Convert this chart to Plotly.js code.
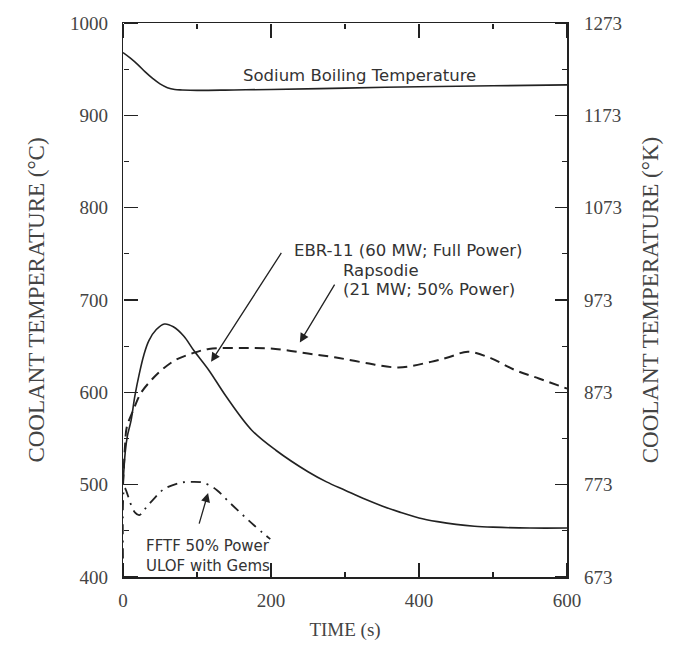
<!DOCTYPE html>
<html>
<head>
<meta charset="utf-8">
<script src="https://cdn.plot.ly/plotly-3.0.1.min.js"></script>
<style>html,body{margin:0;padding:0;background:#fff;}#chart{width:673px;height:655px;}</style>
</head>
<body>
<div id="chart"></div>
<script>
// Sodium boiling temperature (°C)
const sodiumTime = [0, 10, 20, 30, 40, 50, 60, 70, 80, 100, 150, 200, 300, 400, 500, 600];
const sodiumTemp = [968, 962, 955, 947, 940, 934, 930, 928, 927.5, 927, 927.5, 928, 929.5, 931, 932, 933];

// EBR-II (60 MW; Full Power)
const ebrTime = [0, 3, 6, 11, 16, 22, 28, 35, 45, 56, 68, 82, 96, 116, 139, 174, 207, 250, 275, 300, 325, 350, 375, 400, 425, 450, 475, 500, 550, 600];
const ebrTemp = [500, 535, 553, 570, 596, 620, 640, 656, 668, 674, 671, 661, 645, 624, 596, 559, 537, 514, 503, 494, 485, 477, 470, 464, 460, 457, 455, 454, 453, 453];

// Rapsodie (21 MW; 50% Power)
const rapTime = [0, 3, 5, 14, 24, 38, 52, 71, 93, 116, 160, 206, 250, 286, 327, 372, 416, 440, 466, 497, 530, 562, 600];
const rapTemp = [500, 545, 562, 581, 599, 613, 624, 635, 642, 647, 648, 647, 642, 638, 632, 627, 633, 638, 644, 637, 624, 615, 604];

// FFTF 50% Power ULOF with Gems
const fftfTime = [0, 2, 5, 10, 16, 22, 30, 42, 55, 77, 91, 109, 127, 141, 158, 177, 199];
const fftfTemp = [420, 497, 492, 480, 470, 467, 474, 485, 495, 502, 503, 502, 494, 483, 470, 456, 441];

// axis tick settings (Celsius left, Kelvin right, time bottom)
const yTickStartC = 400, yTickStepC = 100, yMinorStepC = 50;
const yTickStartK = 673, yTickStepK = 100;
const xTickStart = 0, xTickStep = 200, xMinorStep = 100;
const kelvinOffset = 273;

const ink = '#222';
const serif = 'Liberation Serif, Times New Roman, serif';
const sans = 'DejaVu Sans, Liberation Sans, Arial, sans-serif';
const hidden = {color: 'rgba(0,0,0,0)', width: 0};

function ghost(xa, ya, name) {
  return {x: sodiumTime, y: sodiumTemp, xaxis: xa, yaxis: ya, mode: 'lines', line: hidden, hoverinfo: 'skip', name: name};
}

const traces = [
  {x: sodiumTime, y: sodiumTemp, mode: 'lines', line: {color: ink, width: 1.6, shape: 'spline'}, name: 'Sodium Boiling Temperature'},
  {x: ebrTime, y: ebrTemp, mode: 'lines', line: {color: ink, width: 1.6, shape: 'spline'}, name: 'EBR-II'},
  {x: rapTime, y: rapTemp, mode: 'lines', line: {color: ink, width: 2, dash: '10px,6px', shape: 'spline'}, name: 'Rapsodie'},
  {x: fftfTime, y: fftfTemp, mode: 'lines', line: {color: ink, width: 1.8, dash: '10px,6px,2px,6px', shape: 'spline'}, name: 'FFTF'},
  // invisible copies of the sodium curve so the label and tick axes are drawn
  {x: sodiumTime, y: sodiumTemp.map(v => v + kelvinOffset), yaxis: 'y2', mode: 'lines', line: hidden, hoverinfo: 'skip', name: 'K labels'},
  ghost('x', 'y3', 'C labels'),
  ghost('x2', 'y5', 'ticks A'),
  ghost('x3', 'y6', 'ticks B'),
  ghost('x4', 'y7', 'ticks C'),
  ghost('x5', 'y8', 'ticks D')
];

const annFont = {family: sans, size: 16.5, color: '#333'};
function label(t, x, y, anchor) {
  return {text: t, x: x, y: y, xref: 'x', yref: 'y', showarrow: false, xanchor: anchor || 'left', yanchor: 'middle', align: 'left', font: annFont};
}
function arrow(x, y, ax, ay) {
  return {text: ' ', x: x, y: y, ax: ax, ay: ay, xref: 'x', yref: 'y', axref: 'x', ayref: 'y',
    showarrow: true, arrowhead: 2, arrowsize: 1.4, arrowwidth: 1.3, arrowcolor: ink, standoff: 0, startstandoff: 0};
}

// tick-only axes: an "outside" tick on the opposite side of an edge points into the plot
function xTickAxis(side, pos, step, len) {
  return {range: [0, 600], overlaying: 'x', anchor: 'free', position: pos, side: side,
    tickmode: 'linear', tick0: xTickStart, dtick: step, ticks: 'outside', ticklen: len, tickwidth: 1.3, tickcolor: ink,
    showline: false, showgrid: false, zeroline: false, showticklabels: false};
}
function yTickAxis(side, pos, step, len) {
  return {range: [400, 1000], overlaying: 'y', anchor: 'free', position: pos, side: side,
    tickmode: 'linear', tick0: yTickStartC, dtick: step, ticks: 'outside', ticklen: len, tickwidth: 1.3, tickcolor: ink,
    showline: false, showgrid: false, zeroline: false, showticklabels: false};
}

const layout = {
  width: 673, height: 655,
  margin: {l: 123, r: 106, t: 23, b: 78},
  paper_bgcolor: '#fff', plot_bgcolor: '#fff',
  showlegend: false,
  xaxis: {
    range: [0, 600], tickmode: 'linear', tick0: xTickStart, dtick: xTickStep, ticks: '',
    showline: true, linecolor: ink, linewidth: 1.5, mirror: true, showgrid: false, zeroline: false,
    tickfont: {family: serif, size: 19, color: '#444'}, ticklabelstandoff: 6,
    title: {text: 'TIME (s)', font: {family: serif, size: 19, color: '#444'}, standoff: 12}
  },
  yaxis: {
    range: [400, 1000], tickmode: 'linear', tick0: yTickStartC, dtick: yTickStepC, ticks: '',
    showline: true, linecolor: ink, linewidth: 1.5, mirror: true, showgrid: false, zeroline: false,
    showticklabels: false
  },
  // left axis labels and title
  yaxis3: {
    range: [400, 1000], overlaying: 'y', side: 'left', tickmode: 'linear', tick0: yTickStartC, dtick: yTickStepC,
    ticks: '', showline: false, showgrid: false, zeroline: false,
    tickfont: {family: serif, size: 19, color: '#444'}, ticklabelstandoff: 14,
    title: {text: 'COOLANT TEMPERATURE (°C)', font: {family: serif, size: 23, color: '#444'}, standoff: 18}
  },
  // right axis: Kelvin labels and title
  yaxis2: {
    range: [673, 1273], tickmode: 'linear', tick0: yTickStartK, dtick: yTickStepK,
    overlaying: 'y', side: 'right', ticks: '',
    showgrid: false, zeroline: false, showline: false,
    tickfont: {family: serif, size: 19, color: '#444'}, ticklabelstandoff: 16,
    title: {text: 'COOLANT TEMPERATURE (°K)', font: {family: serif, size: 23, color: '#444'}, standoff: 20}
  },
  // inward ticks: bottom edge (major, minor), top edge (major, minor)
  xaxis2: xTickAxis('top', 0, xTickStep, 14),
  xaxis3: xTickAxis('top', 0, xMinorStep, 5),
  xaxis4: xTickAxis('bottom', 1, xTickStep, 14),
  xaxis5: xTickAxis('bottom', 1, xMinorStep, 5),
  // inward ticks: left edge (major, minor), right edge (major, minor)
  yaxis5: yTickAxis('right', 0, yTickStepC, 14),
  yaxis6: yTickAxis('right', 0, yMinorStepC, 5),
  yaxis7: yTickAxis('left', 1, yTickStepC, 12),
  yaxis8: yTickAxis('left', 1, yMinorStepC, 5),
  annotations: [
    label('Sodium Boiling Temperature', 320, 943, 'center'),
    label('EBR-11 (60 MW; Full Power)', 228, 754),
    label('Rapsodie', 295, 732),
    label('(21 MW; 50% Power)', 295, 711),
    {text: 'FFTF 50% Power<br>ULOF with Gems', x: 28, y: 423, xref: 'x', yref: 'y', showarrow: false,
     xanchor: 'left', yanchor: 'middle', align: 'left', font: {family: sans, size: 15, color: '#333'}},
    arrow(119, 633, 218, 756),
    arrow(239, 654, 290, 722),
    arrow(115, 491, 99, 447)
  ]
};

Plotly.newPlot('chart', traces, layout, {staticPlot: true, displayModeBar: false});
</script>
</body>
</html>
